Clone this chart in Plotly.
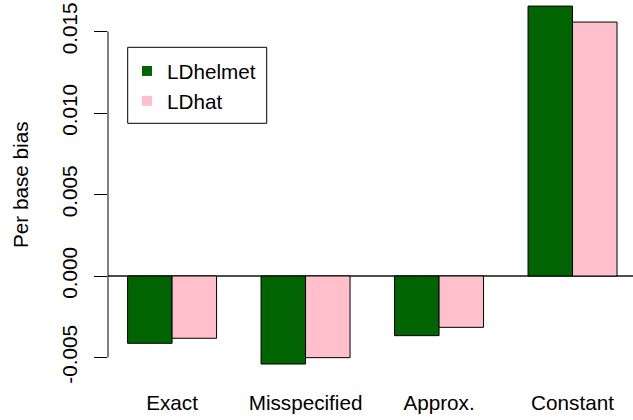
import plotly.graph_objects as go

categories = ["Exact", "Misspecified", "Approx.", "Constant"]
ldhelmet = [-0.00413, -0.00540, -0.00366, 0.01656]
ldhat = [-0.00382, -0.00501, -0.00315, 0.01558]
series_names = ["LDhelmet", "LDhat"]
series_colors = ["#006400", "#FFC0CB"]
y_tick_vals = [-0.005, 0.000, 0.005, 0.010, 0.015]
y_tick_text = ["-0.005", "0.000", "0.005", "0.010", "0.015"]
y_title = "Per base bias"

FONT = "Liberation Sans, Arial, Helvetica, sans-serif"
FS = 20.7
W, H = 633, 420
ML, MR, MT, MB = 108, 0, 0, 42
PW, PH = W - ML - MR, H - MT - MB


def px_x(p):
    return (p - ML) / PW


def px_y(p):
    return 1 - (p - MT) / PH


fig = go.Figure()
for name, vals, col in zip(series_names, [ldhelmet, ldhat], series_colors):
    fig.add_trace(go.Bar(
        x=categories, y=vals, name=name, showlegend=False,
        marker=dict(color=col, line=dict(color="black", width=1)),
    ))
# legend entries (filled squares without border, like R's legend fill)
for name, col in zip(series_names, series_colors):
    fig.add_trace(go.Scatter(
        x=[None], y=[None], mode="markers", name=name,
        marker=dict(symbol="square", size=10, color=col),
    ))

fig.update_layout(
    width=W, height=H,
    margin=dict(l=ML, r=MR, t=MT, b=MB, autoexpand=False),
    paper_bgcolor="white", plot_bgcolor="white",
    barmode="group", bargap=1/3, bargroupgap=0,
    font=dict(family=FONT, size=FS, color="black"),
    showlegend=True,
    legend=dict(
        x=px_x(127), y=px_y(51), xanchor="left", yanchor="top",
        borderwidth=0, bgcolor="rgba(0,0,0,0)",
        font=dict(size=FS), itemwidth=30, tracegroupgap=0,
    ),
    xaxis=dict(
        range=[-0.48, 3.453], showline=False, showgrid=False,
        ticks="", tickfont=dict(size=FS), zeroline=False, automargin=False,
        ticklabelstandoff=10,
    ),
    yaxis=dict(
        range=[-0.006258, 0.016933], showgrid=False, showline=False,
        tickvals=y_tick_vals, ticktext=y_tick_text, tickangle=-90,
        ticks="outside", ticklen=13, tickcolor="black", tickwidth=1,
        tickfont=dict(size=FS), ticklabelstandoff=9, automargin=False,
        zeroline=True, zerolinecolor="#4d4d4d", zerolinewidth=2,
    ),
    annotations=[dict(
        text=y_title, textangle=-90, showarrow=False,
        xref="paper", yref="paper", x=px_x(20), y=px_y(185),
        xanchor="center", yanchor="middle", font=dict(size=FS),
    )],
    shapes=[
        dict(
            type="line", xref="paper", yref="y",
            x0=0, x1=0, y0=min(y_tick_vals), y1=max(y_tick_vals),
            line=dict(color="black", width=1),
        ),
        dict(
            type="rect", xref="paper", yref="paper",
            x0=px_x(127.7), x1=px_x(266.7), y0=px_y(123.3), y1=px_y(47.3),
            line=dict(color="black", width=1), layer="above",
        ),
    ],
)

fig.write_html(
    "out.html",
    config={"displayModeBar": False},
    post_script="document.body.style.margin='0';document.body.style.overflow='hidden';",
)
